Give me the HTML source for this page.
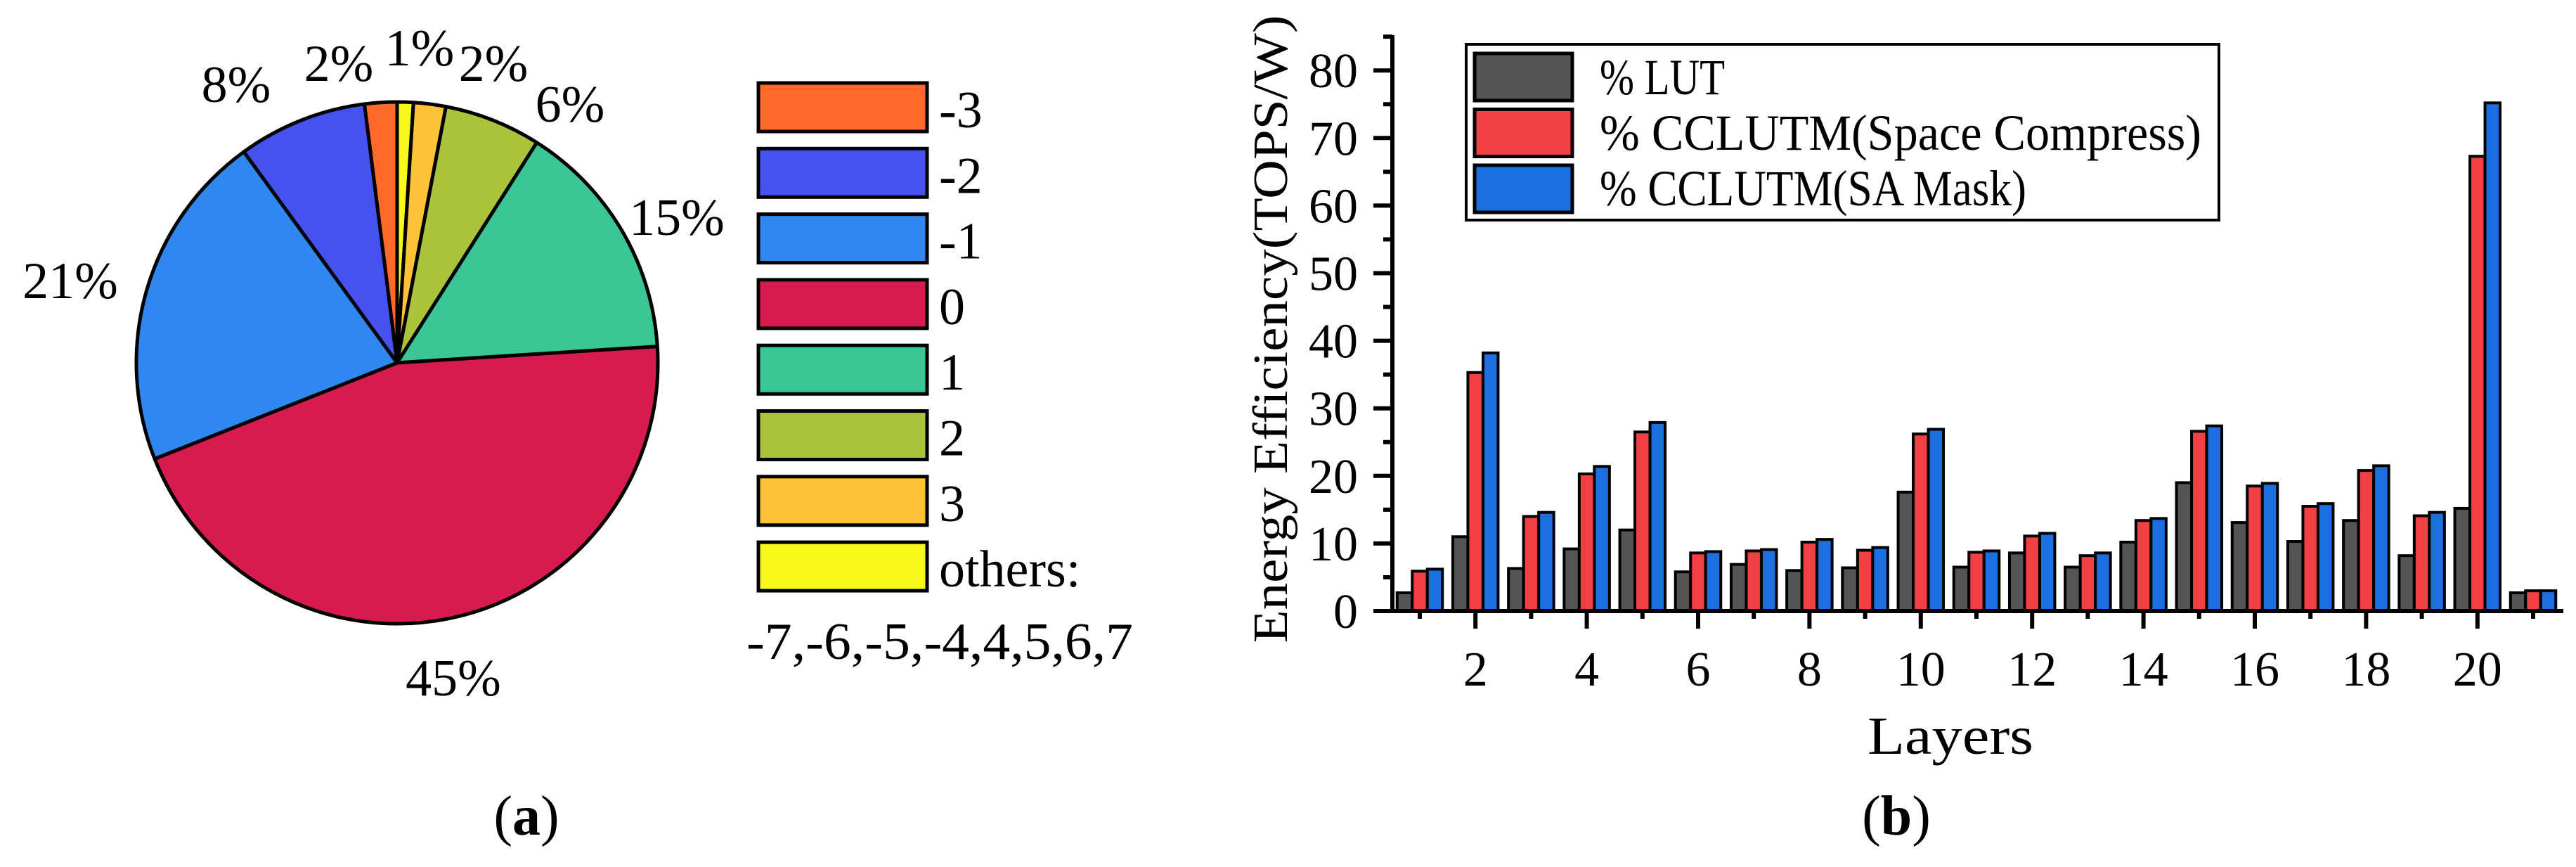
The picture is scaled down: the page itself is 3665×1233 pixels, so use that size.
<!DOCTYPE html>
<html><head><meta charset="utf-8">
<style>
html,body{margin:0;padding:0;background:#fff;}
svg{display:block;}
text{fill:#000;}
.serif{font-family:"Liberation Serif",serif;}
</style></head>
<body>
<svg id="fig" width="3665" height="1233" viewBox="0 0 3665 1233" xmlns="http://www.w3.org/2000/svg">
<rect x="0" y="0" width="3665" height="1233" fill="#fff"/>
<g id="pie"></g>
<g id="pieLegend"></g>
<text class="serif" x="749" y="1187" font-size="80" text-anchor="middle">(<tspan font-weight="bold">a</tspan>)</text>
<g id="bars"></g>
<text class="serif" x="2698" y="1187" font-size="80" text-anchor="middle">(<tspan font-weight="bold">b</tspan>)</text>
</svg>
<script>
const NS="http://www.w3.org/2000/svg";
// ---- pie data ----
const pieCats=["others","3","2","1","0","-1","-2","-3"];
const pieVals=[1,2,6,15,45,21,8,2];
const pieColors=["#f8f81a","#fdc336","#aac43a","#3bc794","#d81b4e","#2e88f0","#4652f0","#ff6a2a"];
const pieLabels=["1%","2%","6%","15%","45%","21%","8%","2%"];
const legCats=["-3","-2","-1","0","1","2","3","others:"];
const legColors=["#ff6a2a","#4652f0","#2e88f0","#d81b4e","#3bc794","#aac43a","#fdc336","#f8f81a"];
// ---- bar data ----
const layers=[1,2,3,4,5,6,7,8,9,10,11,12,13,14,15,16,17,18,19,20,21];
const lutVals=[2.7,11,6.3,9.2,12,5.8,6.9,6,6.4,17.6,6.5,8.6,6.5,10.2,19,13.1,10.3,13.4,8.2,15.2,2.7];
const spaceVals=[5.9,35.3,14,20.3,26.5,8.6,8.9,10.2,9,26.2,8.7,11.1,8.2,13.4,26.6,18.5,15.5,20.8,14.1,67.3,3];
const maskVals=[6.2,38.2,14.6,21.4,27.9,8.8,9.1,10.6,9.4,26.9,8.9,11.5,8.6,13.7,27.4,18.9,15.9,21.5,14.6,75.2,3];
const yTicks=[0,10,20,30,40,50,60,70,80];
const xTickLabels=[2,4,6,8,10,12,14,16,18,20];
const seriesNames=["% LUT","% CCLUTM(Space Compress)","% CCLUTM(SA Mask)"];
const seriesColors=["#545454","#f04042","#1c6fdf"];

function mk(tag,attrs,parent,text){const e=document.createElementNS(NS,tag);for(const k in attrs)e.setAttribute(k,attrs[k]);if(text!==undefined)e.textContent=text;parent.appendChild(e);return e;}

// ---- pie ----
const pie=document.getElementById('pie');
const cx=565,cy=516,R=371;
const labelPos=[[597,93],[702,115],[811,173],[963,334],[645,989],[100,424],[336,145],[482,115]];
const total=pieVals.reduce((a,b)=>a+b,0);
let acc=0;
pieVals.forEach((v,i)=>{
  const a0=acc/total*2*Math.PI; acc+=v; const a1=acc/total*2*Math.PI;
  const x0=cx+R*Math.sin(a0),y0=cy-R*Math.cos(a0),x1=cx+R*Math.sin(a1),y1=cy-R*Math.cos(a1);
  const large=(a1-a0)>Math.PI?1:0;
  const p=mk('path',{d:`M${cx},${cy}L${x0},${y0}A${R},${R} 0 ${large} 1 ${x1},${y1}Z`,fill:pieColors[i],stroke:'#000','stroke-width':5,'stroke-linejoin':'round'},pie);
  
  
  const t=mk('text',{class:'serif',x:labelPos[i][0],y:labelPos[i][1],'font-size':74,'text-anchor':'middle'},pie,pieLabels[i]);
  
  
});
const pl=document.getElementById('pieLegend');
legCats.forEach((c,i)=>{
  const y=118+i*93.3;
  const r=mk('rect',{x:1079,y:y,width:240,height:69,fill:legColors[i],stroke:'#000','stroke-width':5},pl);
  
  
  const t=mk('text',{class:'serif',x:1336,y:y+63,'font-size':74},pl,c);
  
  
});
const ot=mk('text',{class:'serif',x:1062,y:937,'font-size':74,textLength:550,lengthAdjust:'spacingAndGlyphs'},pl,"-7,-6,-5,-4,4,5,6,7");



// ---- bars ----
const g=document.getElementById('bars');
const x0px=2020,step=79.2,base=869,pxPerUnit=9.61,axisX=1981,axisEnd=3647;
const xs=l=>x0px+(l-1)*step;
const ys=v=>base-v*pxPerUnit;
const bw=21.5;
[lutVals,spaceVals,maskVals].forEach((vals,s)=>{
  vals.forEach((v,i)=>{
    const cxb=xs(layers[i])+(s-1)*bw;
    const r=mk('rect',{x:cxb-bw/2,y:ys(v),width:bw,height:base-ys(v),fill:seriesColors[s],stroke:'#000','stroke-width':4},g);
    
    
  });
});
// axes
const ya=mk('line',{x1:axisX,y1:50,x2:axisX,y2:base+3,stroke:'#000','stroke-width':6},g);


const xa=mk('line',{x1:axisX-27,y1:base,x2:axisEnd,y2:base,stroke:'#000','stroke-width':6},g);


for(let v=5;v<=85;v+=10){
  const t=mk('line',{x1:axisX-13,y1:ys(v),x2:axisX,y2:ys(v),stroke:'#000','stroke-width':6},g);
  
  
}
yTicks.forEach(v=>{
  const t=mk('line',{x1:axisX-27,y1:ys(v),x2:axisX,y2:ys(v),stroke:'#000','stroke-width':6},g);
  
  
  const l=mk('text',{class:'serif',x:1932,y:ys(v)+24,'font-size':70,'text-anchor':'end'},g,String(v));
  
  
});
layers.forEach(l=>{
  const major=xTickLabels.indexOf(l)>=0;
  const t=mk('line',{x1:xs(l),y1:base,x2:xs(l),y2:base+(major?25:11),stroke:'#000','stroke-width':6},g);
  
  
});
xTickLabels.forEach(l=>{
  const t=mk('text',{class:'serif',x:xs(l),y:975,'font-size':70,'text-anchor':'middle'},g,String(l));
  
  
});
const xt=mk('text',{class:'serif',x:2657,y:1072,'font-size':76,textLength:236,lengthAdjust:'spacingAndGlyphs'},g,"Layers");


const yt=mk('text',{class:'serif',x:0,y:0,'font-size':70,'text-anchor':'middle',textLength:893,lengthAdjust:'spacingAndGlyphs',transform:'translate(1831,468) rotate(-90)'},g,"Energy Efficiency(TOPS/W)");


// legend
const lg=mk('g',{},g);


const lb=mk('rect',{x:2086,y:63,width:1071,height:250,fill:'#fff',stroke:'#000','stroke-width':4},lg);


const tl=[178,856,607];
seriesNames.forEach((n,i)=>{
  const y=76+i*79.5;
  const s=mk('rect',{x:2098,y:y,width:139,height:67,fill:seriesColors[i],stroke:'#000','stroke-width':5},lg);
  
  
  const t=mk('text',{class:'serif',x:2276,y:134+i*79,'font-size':72,textLength:tl[i],lengthAdjust:'spacingAndGlyphs'},lg,n);
  
  
});
</script>
</body></html>
